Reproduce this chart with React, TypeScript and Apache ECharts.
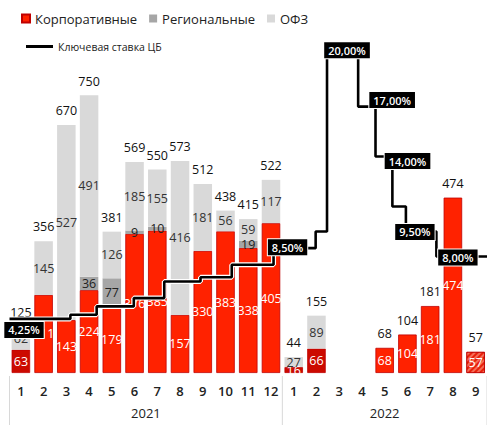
import React, { useEffect, useRef } from "react";
import * as echarts from "echarts";

const months = ["1","2","3","4","5","6","7","8","9","10","11","12","1","2","3","4","5","6","7","8","9"];
const years = ["2021", "2022"];
const corporate = [63, 211, 143, 224, 179, 376, 385, 157, 330, 383, 338, 405, 16, 66, null, null, 68, 104, 181, 474, 57];
const regional = [null, null, null, 36, 77, 9, 10, null, null, null, 19, null, null, null, null, null, null, null, null, null, null];
const ofz = [62, 145, 527, 491, 126, 185, 155, 416, 181, 56, 59, 117, 27, 89, null, null, null, null, null, null, null];
const totals = [125, 356, 670, 750, 381, 569, 550, 573, 512, 438, 415, 522, 44, 155, null, null, 68, 104, 181, 474, 57];

const rateDates = ["2021-01-01","2021-03-22","2021-04-26","2021-06-15","2021-07-26","2021-09-13","2021-10-25","2021-12-20","2022-02-14","2022-02-28","2022-04-11","2022-05-04","2022-05-27","2022-06-14","2022-07-25"];
const rateValues = [4.25, 4.5, 5, 5.5, 6.5, 6.75, 7.5, 8.5, 9.5, 20, 17, 14, 11, 9.5, 8];
const rateEndDate = "2022-10-01";
const labeledRates = [0, 7, 9, 10, 11, 13, 14];

// label box offsets (style)
const labelOffsets: Record<number, [number, number]> = {
  0: [14.5, 11],
  7: [14, -1],
  9: [20, -6.5],
  10: [34, -6.5],
  11: [32, 4.5],
  13: [9, 0.5],
  14: [21.5, 1],
};

const NAME_CORP = "Корпоративные";
const NAME_REG = "Региональные";
const NAME_OFZ = "ОФЗ";
const NAME_RATE = "Ключевая ставка ЦБ";

function dateIdx(s: string) {
  const [y, m, d] = s.split("-").map(Number);
  const dim = new Date(y, m, 0).getDate();
  return (y - 2021) * 12 + (m - 1) - 0.5 + (d - 1) / dim;
}

const FONT = "Open Sans";

export default function App() {
  const ref = useRef<HTMLDivElement>(null);
  useEffect(() => {
    if (!ref.current) return;
    const chart = echarts.init(ref.current, null, { renderer: "svg" });

    const ratePts = rateDates.map((d, i) => [dateIdx(d), rateValues[i]]);
    const linePts = [...ratePts, [dateIdx(rateEndDate), rateValues[rateValues.length - 1]]];
    const labelPts = labeledRates.map((i) => ({
      value: ratePts[i],
      label: { offset: labelOffsets[i] },
    }));

    const corpData = corporate.map((v, i) => {
      if (i === 20) {
        return {
          value: v,
          itemStyle: {
            color: "#E8200A",
            decal: {
              symbol: "rect",
              symbolSize: 1,
              dashArrayX: [1, 0],
              dashArrayY: [2, 2],
              rotation: -Math.PI / 4,
              color: "rgba(255,170,150,0.55)",
            },
          },
        };
      }
      if (i === 0 || i === 12 || i === 13) return { value: v, itemStyle: { color: "#CC0A00" } };
      return v;
    });

    const barCommon = {
      type: "bar",
      stack: "total",
      barWidth: 18.5,
      barGap: "-100%",
      xAxisIndex: 0,
      yAxisIndex: 0,
      z: 2,
    };

    chart.setOption({
      animation: false,
      grid: { left: 9.5, right: -3.5, top: 40, bottom: 52 },
      legend: [
        {
          data: [NAME_CORP, NAME_REG, NAME_OFZ],
          left: 16,
          top: 7,
          icon: "rect",
          itemWidth: 8,
          itemHeight: 8,
          itemGap: 12,
          textStyle: { fontFamily: FONT, fontSize: 13, color: "#222" },
          selectedMode: false,
        },
        {
          data: [NAME_RATE],
          left: 21,
          top: 36,
          icon: "rect",
          itemWidth: 27,
          itemHeight: 3,
          textStyle: { fontFamily: FONT, fontSize: 10.5, color: "#222" },
          selectedMode: false,
        },
      ],
      xAxis: [
        {
          type: "category",
          data: months,
          axisLine: { show: false },
          axisTick: { show: false },
          axisLabel: { margin: 11, fontFamily: FONT, fontSize: 13, fontWeight: 600, color: "#222", interval: 0 },
        },
        { type: "value", min: -0.5, max: 20.5, show: false },
      ],
      yAxis: [
        { type: "value", min: 0, max: 900, show: false },
        { type: "value", min: 1, max: 21, show: false },
      ],
      series: [
        {
          ...barCommon,
          name: NAME_CORP,
          data: corpData,
          itemStyle: { color: "#FF2200", borderColor: "#C00000", borderWidth: 0.8 },
          label: { show: true, position: "inside", color: "#fff", fontFamily: FONT, fontSize: 12.5 },
        },
        {
          ...barCommon,
          name: NAME_REG,
          data: regional,
          itemStyle: { color: "#A6A6A6" },
          label: { show: true, position: "inside", color: "#222", fontFamily: FONT, fontSize: 12.5 },
        },
        {
          ...barCommon,
          name: NAME_OFZ,
          data: ofz,
          itemStyle: { color: "#D9D9D9" },
          label: { show: true, position: "inside", color: "#333", fontFamily: FONT, fontSize: 12.5 },
        },
        {
          type: "bar",
          name: "total",
          data: totals,
          barWidth: 18.5,
          barGap: "-100%",
          silent: true,
          itemStyle: { color: "rgba(0,0,0,0)" },
          label: { show: true, position: "top", distance: 8, color: "#111", fontFamily: FONT, fontSize: 12.5 },
          z: 2,
        },
        {
          type: "line",
          name: "halo",
          xAxisIndex: 1,
          yAxisIndex: 1,
          step: "end",
          data: linePts,
          symbol: "none",
          lineStyle: { color: "#fff", width: 5 },
          silent: true,
          z: 3,
        },
        {
          type: "line",
          name: NAME_RATE,
          xAxisIndex: 1,
          yAxisIndex: 1,
          step: "end",
          data: linePts,
          symbol: "none",
          itemStyle: { color: "#000" },
          lineStyle: { color: "#000", width: 2.6 },
          z: 4,
        },
        {
          type: "scatter",
          name: "rateLabels",
          xAxisIndex: 1,
          yAxisIndex: 1,
          data: labelPts,
          symbolSize: 0,
          silent: true,
          z: 5,
          itemStyle: { opacity: 1, color: "#000" },
          label: {
            show: true,
            opacity: 1,
            position: "inside",
            formatter: (p: any) => p.value[1].toFixed(2).replace(".", ",") + "%",
            backgroundColor: "#000000",
            borderColor: "#fff",
            borderWidth: 1,
            color: "#fff",
            padding: [3, 4, 2, 4],
            fontFamily: FONT,
            fontSize: 11,
            fontWeight: 600,
          },
        },
      ],
    });

    const px = (v: number) => chart.convertToPixel({ xAxisIndex: 1 } as any, v) as number;
    const sep = [-0.5, 11.5, 20.5];
    const yearCenters = [5.5, 16];
    chart.setOption({
      graphic: [
        ...sep.map((v) => ({
          type: "line",
          shape: { x1: px(v), y1: 376, x2: px(v), y2: 425 },
          style: { stroke: "#D8D8D8", lineWidth: 1 },
        })),
        ...years.map((y, i) => ({
          type: "text",
          x: px(yearCenters[i]),
          y: 413,
          style: {
            text: y,
            fontFamily: FONT,
            fontSize: 13,
            fill: "#222",
            textAlign: "center",
            textVerticalAlign: "middle",
          },
        })),
      ],
    });

    return () => chart.dispose();
  }, []);
  return (
    <div
      ref={ref}
      style={{ position: "absolute", left: 0, top: 0, width: 487, height: 425, background: "#fff" }}
    />
  );
}
